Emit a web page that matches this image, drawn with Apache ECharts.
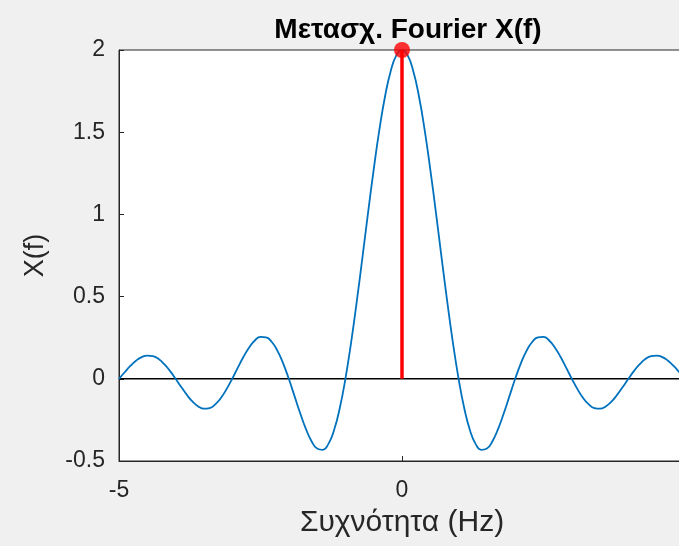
<!DOCTYPE html>
<html>
<head>
<meta charset="utf-8">
<script src="https://cdn.jsdelivr.net/npm/echarts@6/dist/echarts.min.js"></script>
<style>
  html, body { margin: 0; padding: 0; background: #f0f0f0; overflow: hidden; }
  #chart { width: 700px; height: 546px; }
</style>
</head>
<body>
<div id="chart"></div>
<script>
// συχνότητες (Hz)
const freq = [
  -5.0, -4.9, -4.8, -4.7, -4.6, -4.5, -4.4, -4.3, -4.2, -4.1,
  -4.0, -3.9, -3.8, -3.7, -3.6, -3.5, -3.4, -3.3, -3.2, -3.1,
  -3.0, -2.9, -2.8, -2.7, -2.6, -2.5, -2.4, -2.3, -2.2, -2.1,
  -2.0, -1.9, -1.8, -1.7, -1.6, -1.5, -1.4, -1.3, -1.2, -1.1,
  -1.0, -0.9, -0.8, -0.7, -0.6, -0.5, -0.4, -0.3, -0.2, -0.1,
  0.0,
  0.1, 0.2, 0.3, 0.4, 0.5, 0.6, 0.7, 0.8, 0.9, 1.0,
  1.1, 1.2, 1.3, 1.4, 1.5, 1.6, 1.7, 1.8, 1.9, 2.0,
  2.1, 2.2, 2.3, 2.4, 2.5, 2.6, 2.7, 2.8, 2.9, 3.0,
  3.1, 3.2, 3.3, 3.4, 3.5, 3.6, 3.7, 3.8, 3.9, 4.0,
  4.1, 4.2, 4.3, 4.4, 4.5, 4.6, 4.7, 4.8, 4.9, 5.0
]

// X(f) όπως διαβάζεται από την εικόνα
const amp = [
  0.000, 0.040, 0.078, 0.110, 0.132, 0.141, 0.138, 0.120, 0.089, 0.048,
  0.000, -0.050, -0.098, -0.139, -0.168, -0.182, -0.178, -0.156, -0.117, -0.063,
  0.000, 0.068, 0.134, 0.191, 0.233, 0.255, 0.252, 0.224, 0.170, 0.094,
  0.000, -0.104, -0.208, -0.303, -0.378, -0.424, -0.432, -0.396, -0.312, -0.179,
  0.000, 0.219, 0.468, 0.736, 1.009, 1.273, 1.514, 1.717, 1.871, 1.967,
  2.000,
  1.967, 1.871, 1.717, 1.514, 1.273, 1.009, 0.736, 0.468, 0.219, 0.000,
  -0.179, -0.312, -0.396, -0.432, -0.424, -0.378, -0.303, -0.208, -0.104, 0.000,
  0.094, 0.170, 0.224, 0.252, 0.255, 0.233, 0.191, 0.134, 0.068, 0.000,
  -0.063, -0.117, -0.156, -0.178, -0.182, -0.168, -0.139, -0.098, -0.050, 0.000,
  0.048, 0.089, 0.120, 0.138, 0.141, 0.132, 0.110, 0.078, 0.040, 0.000
]

// κόκκινη γραμμή (stem) στο f = 0
const stemX = [0, 0]
const stemY = [0, 2]

// άξονας y = 0
const zeroX = [-5, 5]
const zeroY = [0, 0]

const pairs = (xs, ys) => xs.map((x, i) => [x, ys[i]])

const chart = echarts.init(document.getElementById('chart'))

const option = {
  backgroundColor: '#f0f0f0',
  animation: false,
  title: {
    text: 'Μετασχ. Fourier X(f)',
    left: 403,
    top: 11,
    textAlign: 'center',
    textStyle: { fontFamily: 'Liberation Sans', fontSize: 28, fontWeight: 'bold', color: '#000' }
  },
  grid: {
    left: 119,
    top: 50,
    right: 15,
    bottom: 85,
    show: true,
    backgroundColor: '#ffffff',
    borderColor: '#262626',
    borderWidth: 1
  },
  xAxis: {
    type: 'value',
    min: -5,
    max: 5,
    interval: 5,
    name: 'Συχνότητα (Hz)',
    nameLocation: 'middle',
    nameGap: 47,
    nameTextStyle: { fontFamily: 'Liberation Sans', fontSize: 30, color: '#262626' },
    axisLine: { onZero: false, lineStyle: { color: '#262626', width: 1 } },
    axisTick: { inside: true, length: 5, lineStyle: { color: '#262626' } },
    axisLabel: { margin: 18, fontFamily: 'Liberation Sans', fontSize: 23, color: '#262626' },
    splitLine: { show: false }
  },
  yAxis: {
    type: 'value',
    min: -0.5,
    max: 2,
    interval: 0.5,
    name: 'X(f)',
    nameLocation: 'middle',
    nameGap: 70,
    nameTextStyle: { fontFamily: 'Liberation Sans', fontSize: 27, color: '#262626' },
    axisLine: { show: true, onZero: false, lineStyle: { color: '#262626', width: 1 } },
    axisTick: { show: true, inside: true, length: 5, lineStyle: { color: '#262626' } },
    axisLabel: { margin: 14, fontFamily: 'Liberation Sans', fontSize: 23, color: '#262626' },
    splitLine: { show: false }
  },
  series: [
    {
      name: 'zero',
      type: 'line',
      data: pairs(zeroX, zeroY),
      symbol: 'none',
      lineStyle: { color: '#000', width: 1.5 },
      z: 1
    },
    {
      name: 'X(f)',
      type: 'line',
      data: pairs(freq, amp),
      smooth: true,
      symbol: 'none',
      lineStyle: { color: '#0072bd', width: 1.8 },
      z: 2
    },
    {
      name: 'stem',
      type: 'line',
      data: pairs(stemX, stemY),
      symbol: 'none',
      lineStyle: { color: '#ff0000', width: 3.5 },
      z: 3
    },
    {
      name: 'peak',
      type: 'scatter',
      data: [[stemX[1], stemY[1]]],
      symbolSize: 16,
      itemStyle: { color: '#ff0000' },
      z: 4
    }
  ]
}

chart.setOption(option)
</script>
</body>
</html>
